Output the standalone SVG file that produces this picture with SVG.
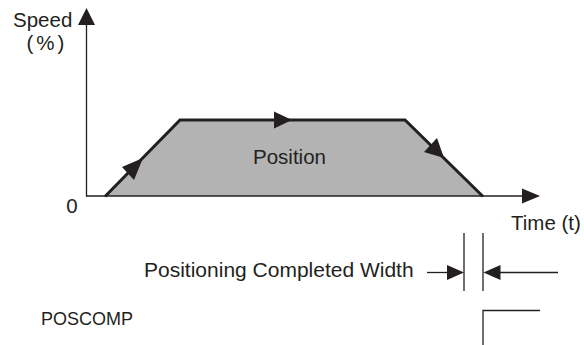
<svg xmlns="http://www.w3.org/2000/svg" width="584" height="345" viewBox="0 0 584 345">
<style>
text{font-family:"Liberation Sans",Arial,sans-serif;font-size:20.5px;fill:#231f20}
.ax{stroke:#231f20;stroke-width:1.3;fill:none}
.thick{stroke:#231f20;stroke-width:3;fill:none;stroke-linejoin:miter}
.head{fill:#231f20}
</style>
<rect width="584" height="345" fill="#fff"/>
<g id="area">
<polygon points="105,196 180,120 405,120 483,196" fill="#b3b3b3"/>
<text x="289.5" y="164" text-anchor="middle">Position</text>
</g>
<g id="axes">
<line class="ax" x1="86.5" y1="22" x2="86.5" y2="196.5"/>
<polygon class="head" points="86.5,8 78,25 95,25"/>
<line class="ax" x1="86" y1="196" x2="524" y2="196"/>
<polygon class="head" points="540,196 522,188.5 522,203.5"/>
<text x="13" y="27">Speed</text>
<text x="47" y="50" text-anchor="middle" letter-spacing="3">(%)</text>
<text x="72" y="213" text-anchor="middle">0</text>
<text x="511" y="230">Time (t)</text>
</g>
<g id="connectors">
<polyline class="thick" points="105,196.5 180,120 405,120 483,196.5"/>
<polygon class="head" points="143,158 122,167 134,180"/>
<polygon class="head" points="292,120 274,111.5 274,128.5"/>
<polygon class="head" points="444,158 424,152 437,138"/>
</g>
<g id="width">
<line class="ax" x1="464" y1="233" x2="464" y2="291"/>
<line class="ax" x1="483" y1="233" x2="483" y2="291"/>
<line class="ax" x1="427" y1="272.5" x2="450" y2="272.5"/>
<polygon class="head" points="464,272.5 447,265 447,280"/>
<line class="ax" x1="497" y1="272.5" x2="558" y2="272.5"/>
<polygon class="head" points="483.5,272.5 500.5,265 500.5,280"/>
<text x="144" y="277" style="font-size:21px">Positioning Completed Width</text>
</g>
<g id="poscomp">
<polyline class="ax" points="483,345 483,310.5 540,310.5"/>
<text x="41" y="325" style="font-size:18px">POSCOMP</text>
</g>
</svg>
